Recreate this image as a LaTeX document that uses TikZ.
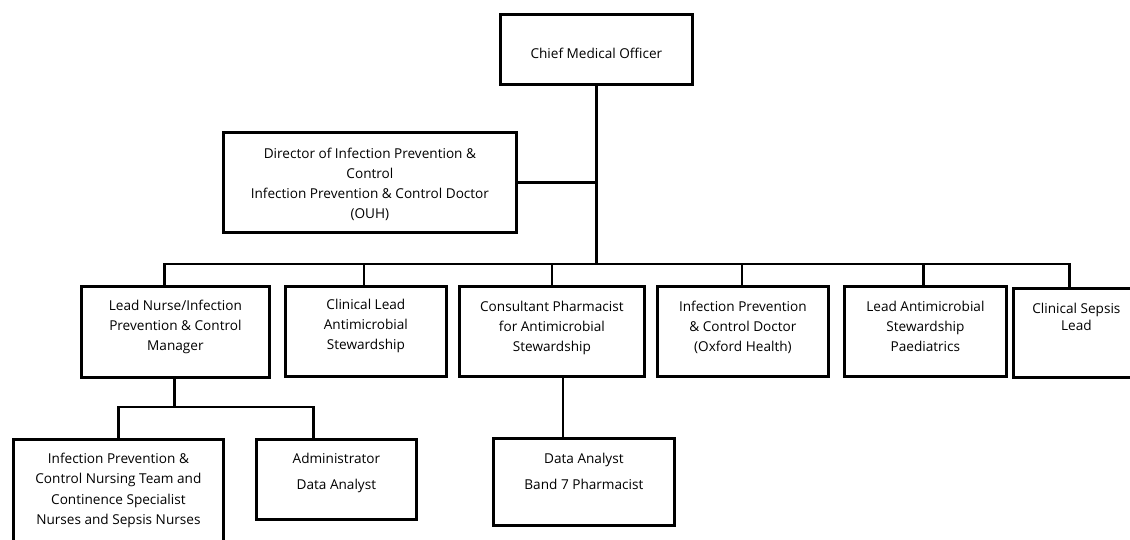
\documentclass[tikz,border=0pt]{standalone}
\usepackage{fontspec}
\setmainfont{Open Sans}
\usepackage{tikz}

% text of a card: width, height, first baseline, line gap, lines
\newcommand{\cardtext}[5]{\parbox[c][#2][t]{#1}{\centering\baselineskip=#4\relax\rule{0pt}{#3}#5\par}}

\begin{document}
\begin{tikzpicture}[x=1pt, y=-1pt]
\tikzset{card/.style={draw, line width=2.8pt, inner sep=0pt, anchor=north west, font=\fontsize{13.6}{20}\selectfont},
  link/.style={line width=2.8pt}}
\useasboundingbox (0,0) rectangle (1130,540);
\clip (0,0) rectangle (1130,540);
% top
\node[card] (cmo) at (499,13) {\cardtext{192pt}{70pt}{44pt}{20pt}{Chief Medical Officer}};
\node[card] (dir) at (222,131) {\cardtext{293pt}{100pt}{26pt}{20pt}{Director of Infection Prevention \&\\ Control\\ Infection Prevention \& Control Doctor\\ (OUH)}};
% second row
\node[card] (nurse) at (80,285) {\cardtext{188pt}{91pt}{24pt}{20pt}{Lead Nurse/Infection\\ Prevention \& Control\\ Manager}};
\node[card] (clin) at (284,285) {\cardtext{161pt}{90pt}{23pt}{20pt}{Clinical Lead\\ Antimicrobial\\ Stewardship}};
\node[card] (pharm) at (458,285) {\cardtext{185pt}{90pt}{25pt}{20pt}{Consultant Pharmacist\\ for Antimicrobial\\ Stewardship}};
\node[card] (ipcdoc) at (656,285) {\cardtext{171pt}{90pt}{25pt}{20pt}{Infection Prevention\\ \& Control Doctor\\ (Oxford Health)}};
\node[card] (paed) at (843,285) {\cardtext{162pt}{90pt}{25pt}{20pt}{Lead Antimicrobial\\ Stewardship\\ Paediatrics}};
\node[card] (sepsis) at (1012,287) {\cardtext{126pt}{89pt}{25pt}{17pt}{Clinical Sepsis\\ Lead}};
% third row
\node[card] (nursing) at (12,438) {\cardtext{210pt}{110pt}{24pt}{20.5pt}{Infection Prevention \&\\ Control Nursing Team and\\ Continence Specialist\\ Nurses and Sepsis Nurses}};
\node[card] (admin) at (255,438) {\cardtext{160pt}{80pt}{24pt}{26pt}{Administrator\\ Data Analyst}};
\node[card] (analyst) at (492,437) {\cardtext{181pt}{87pt}{25pt}{26pt}{Data Analyst\\ Band 7 Pharmacist}};
% lines
\coordinate (hub) at (cmo.south |- 0,264);
\draw[link] (cmo) -- (hub);
\draw[link] (dir) -- (dir.east -| hub);
\draw[link] ([xshift=-11pt]nurse.north) |- (hub) -| ([xshift=-7pt]sepsis.north);
\foreach \n/\dx in {clin/-2, pharm/0, ipcdoc/-1, paed/-2}
  \draw[link] ([xshift=\dx pt]\n.north) -- ([xshift=\dx pt]\n.north |- hub);
\coordinate (nhub) at ([xshift=-1pt]nurse.south |- 0,407);
\draw[link] ([xshift=-1pt]nurse.south) -- (nhub);
\draw[link] (nursing.north) |- (nhub) -| ([xshift=-23pt]admin.north);
\draw[link] ([xshift=11pt]pharm.south) -- ([xshift=11pt]pharm.south |- analyst.north);
\end{tikzpicture}
\end{document}
